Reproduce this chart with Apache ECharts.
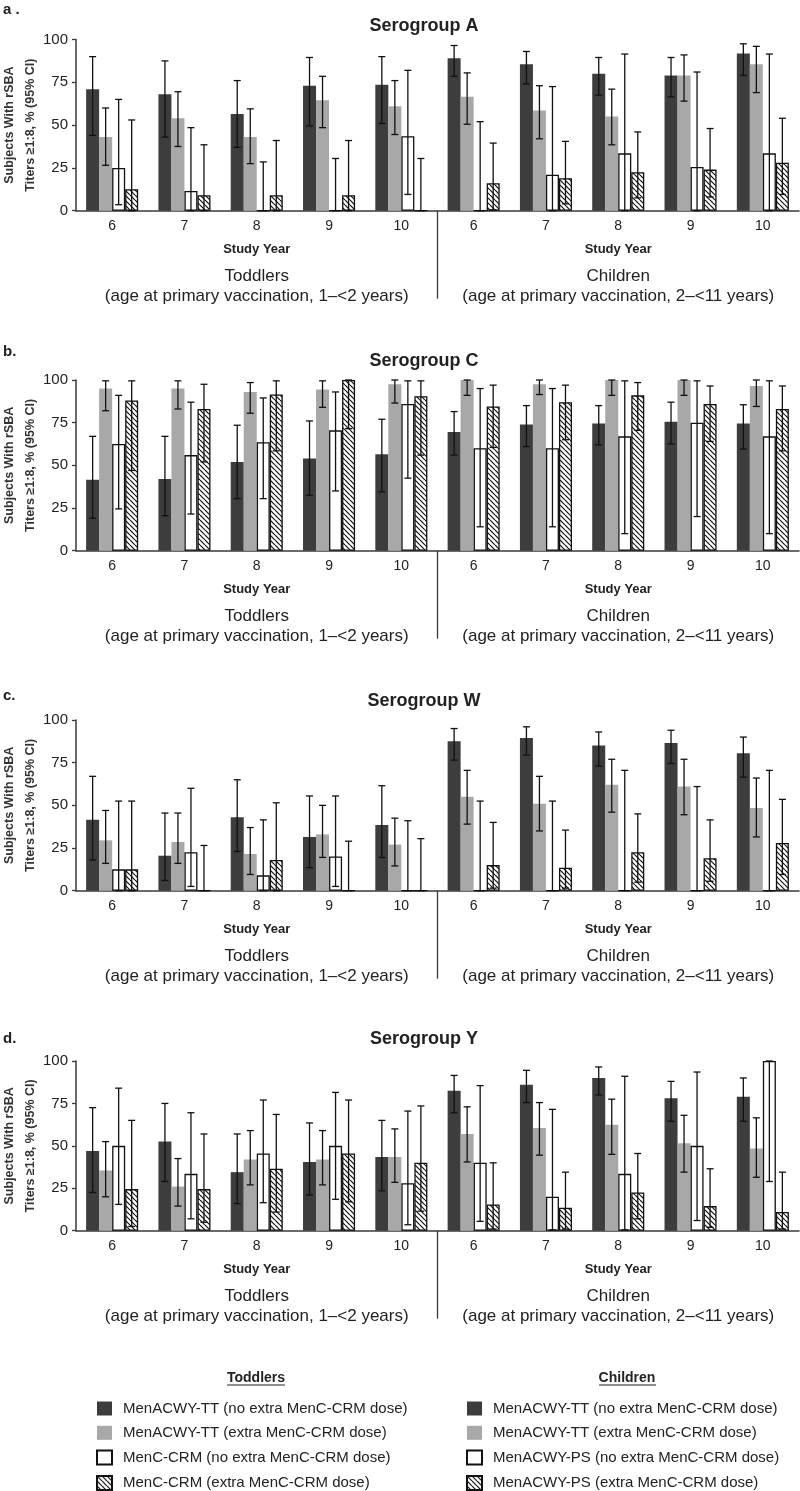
<!DOCTYPE html>
<html><head><meta charset="utf-8">
<script src="https://cdn.jsdelivr.net/npm/echarts@6/dist/echarts.min.js"></script>
<style>html,body{margin:0;padding:0;background:#fff}#c{width:800px;height:1491px}</style>
</head><body><div id="c"></div>
<script>
// ---------- categories / labels ----------
const categories = ['6','7','8','9','10','6','7','8','9','10'];
const groupNames = ['Toddlers','Children'];
const groupSub = ['(age at primary vaccination, 1\u2013<2 years)','(age at primary vaccination, 2\u2013<11 years)'];
const panelTitles = ['Serogroup A','Serogroup C','Serogroup W','Serogroup Y'];
const panelLetters = ['a .','b.','c.','d.'];
const yTickMin = 0, yTickMax = 100, yTickStep = 25;

const nameTT0 = 'MenACWY-TT (no extra MenC-CRM dose)';
const nameTT1 = 'MenACWY-TT (extra MenC-CRM dose)';
const nameCRM0 = 'MenC-CRM (no extra MenC-CRM dose)';
const nameCRM1 = 'MenC-CRM (extra MenC-CRM dose)';
const namePS0 = 'MenACWY-PS (no extra MenC-CRM dose)';
const namePS1 = 'MenACWY-PS (extra MenC-CRM dose)';
const legendToddlers = [nameTT0, nameTT1, nameCRM0, nameCRM1];
const legendChildren = [nameTT0, nameTT1, namePS0, namePS1];

// ---------- data (index 0-4 toddlers yr 6-10, 5-9 children yr 6-10) ----------
// Serogroup A
const A_s1 = [71, 68, 56.5, 73, 73.5, 89, 85.5, 80, 79, 91.8];
const A_s1_lo = [44, 43, 37, 49.5, 51, 78.5, 74, 67.5, 66.5, 79];
const A_s1_hi = [90, 87.5, 76, 89.5, 90, 96.5, 93, 89.5, 89.5, 97.5];
const A_s2 = [43, 54, 43, 64.5, 61, 66.5, 58.5, 55, 79, 85.5];
const A_s2_lo = [26.5, 37.5, 27.5, 48.5, 44.5, 50.5, 42, 38.5, 64, 69];
const A_s2_hi = [60, 69.5, 59.5, 78.5, 76, 80.5, 73, 71, 91, 96];
const A_s3 = [25, 11.5, 0, 0, 43.5, 0, 21, 33.5, 25.5, 33.5];
const A_s3_lo = [3.5, 0, 0, 0, 9.5, 0, 0, 0, 0, 0];
const A_s3_hi = [65, 48.5, 28.5, 30.5, 82, 52, 72.5, 91.5, 81, 91.5];
const A_s4 = [12.5, 9, 9, 9, 0, 16, 19, 22.5, 24, 28];
const A_s4_lo = [0, 0, 0, 0, 0, 0.5, 4, 7.5, 8, 9.5];
const A_s4_hi = [53, 38.5, 41, 41, 30.5, 39.5, 40.5, 46, 48, 54];
// Serogroup C
const C_s1 = [41.5, 42, 52, 54, 56.5, 69.5, 74, 74.5, 75.5, 74.5];
const C_s1_lo = [19, 20.5, 30.5, 32.5, 34.5, 56, 61, 62, 62.5, 59.5];
const C_s1_hi = [67, 67, 73.5, 76, 77, 81.5, 85, 85, 87, 85.5];
const C_s2 = [95, 95, 93, 94.5, 97.5, 100, 97.5, 100, 100, 96.5];
const C_s2_lo = [82, 83, 80.5, 84, 86.5, 91, 91.5, 91, 91, 84.5];
const C_s2_hi = [99.5, 99.5, 98.5, 99.5, 100, 100, 100, 100, 100, 100];
const C_s3 = [62.5, 56, 63.5, 70.5, 86, 60, 60, 67, 75, 67];
const C_s3_lo = [24.5, 21.5, 30.5, 35, 42.5, 14, 14, 10, 20, 10];
const C_s3_hi = [91, 87, 89.5, 93, 99.5, 95, 95, 99.5, 99.5, 99.5];
const C_s4 = [88, 83, 91.5, 100, 90.5, 84.5, 87, 91, 86, 83];
const C_s4_lo = [47, 52, 58.5, 71.5, 56, 60.5, 65, 70.5, 64, 58.5];
const C_s4_hi = [99.5, 97.5, 99.5, 100, 99.5, 97, 97, 98.5, 96.5, 96.5];
// Serogroup W
const W_s1 = [41.5, 20.5, 43, 31.5, 38.5, 87.5, 89.5, 85, 86.5, 80.5];
const W_s1_lo = [18, 6, 23, 13.5, 19.5, 76.5, 79.5, 73, 74.5, 66.5];
const W_s1_hi = [67, 45.5, 65, 55.5, 61.5, 95, 96, 93, 94, 90];
const W_s2 = [29.5, 28.5, 21.5, 33, 27, 55, 51, 62, 61, 48.5];
const W_s2_lo = [16, 16, 9.5, 19.5, 14.5, 39, 35, 46, 44.5, 31.5];
const W_s2_hi = [47, 45.5, 37, 50, 42.5, 70.5, 67, 77, 77, 66];
const W_s3 = [12.5, 22.5, 9, 20, 0, 0, 0, 0, 0, 0];
const W_s3_lo = [0, 2.5, 0, 2.5, 0, 0, 0, 0, 0, 0];
const W_s3_hi = [52.5, 60, 41.5, 55.5, 41, 52.5, 52.5, 70.5, 61, 70.5];
const W_s4 = [12.5, 0, 18, 0, 0, 15, 13.5, 22.5, 19, 28];
const W_s4_lo = [0, 0, 0, 0, 0, 1.5, 1.5, 5, 5.5, 9.5];
const W_s4_hi = [52.5, 26.5, 51.5, 29, 30.5, 40, 35.5, 45, 41.5, 53.5];
// Serogroup Y
const Y_s1 = [47, 52.5, 34.5, 40.5, 43.5, 82.5, 86, 90, 78, 79];
const Y_s1_lo = [22.5, 29, 16, 21, 23.5, 69.5, 75.5, 80, 64.5, 64.5];
const Y_s1_hi = [72.5, 75, 57, 63.5, 65, 91.5, 94.5, 96.5, 88, 90];
const Y_s2 = [35.5, 26, 42, 42, 43.5, 57, 60.5, 62.5, 51.5, 48.5];
const Y_s2_lo = [20, 14.5, 27, 27, 28.5, 40.5, 44.5, 45, 34.5, 31.5];
const Y_s2_hi = [52.5, 42.5, 59, 59, 60, 73, 75.5, 77.5, 68, 66.5];
const Y_s3 = [50, 33.5, 45.5, 50, 28, 40, 20, 33.5, 50, 100];
const Y_s3_lo = [15.5, 7, 16.5, 18.5, 3.5, 5.5, 0.5, 0.5, 6, 29];
const Y_s3_hi = [84, 69.5, 77, 81.5, 70.5, 85.5, 71.5, 91, 93.5, 100];
const Y_s4 = [24.5, 24.5, 36.5, 45.5, 40, 15.5, 13.5, 22.5, 14.5, 11];
const Y_s4_lo = [2.5, 5, 11, 17, 11.5, 1, 1, 7, 2, 1];
const Y_s4_hi = [65, 57, 68.5, 77, 73.5, 40, 34.5, 45.5, 36.5, 34.5];

const panels = [
  {vals:[A_s1,A_s2,A_s3,A_s4], lo:[A_s1_lo,A_s2_lo,A_s3_lo,A_s4_lo], hi:[A_s1_hi,A_s2_hi,A_s3_hi,A_s4_hi]},
  {vals:[C_s1,C_s2,C_s3,C_s4], lo:[C_s1_lo,C_s2_lo,C_s3_lo,C_s4_lo], hi:[C_s1_hi,C_s2_hi,C_s3_hi,C_s4_hi]},
  {vals:[W_s1,W_s2,W_s3,W_s4], lo:[W_s1_lo,W_s2_lo,W_s3_lo,W_s4_lo], hi:[W_s1_hi,W_s2_hi,W_s3_hi,W_s4_hi]},
  {vals:[Y_s1,Y_s2,Y_s3,Y_s4], lo:[Y_s1_lo,Y_s2_lo,Y_s3_lo,Y_s4_lo], hi:[Y_s1_hi,Y_s2_hi,Y_s3_hi,Y_s4_hi]}
];

// ---------- layout / style ----------
const gridTops = [39.5, 380, 720, 1061];
const gridHeights = [171.2, 170.7, 170.7, 169.7];
const titleTops = [16, 351, 691, 1029];
const letterTops = [2, 344, 688, 1031];
const GAP = 0.28;
const DARK = '#3d3d3d', GRAY = '#a8a8a8', INK = '#222', AXIS = '#3a3a3a';
const FONT = 'Liberation Sans, Arial, sans-serif';

function hatch() {
  const s = 5, c = document.createElement('canvas');
  c.width = s; c.height = s;
  const x = c.getContext('2d');
  x.fillStyle = '#fff'; x.fillRect(0, 0, s, s);
  x.strokeStyle = '#111'; x.lineWidth = 1.2;
  for (let k = -1; k <= 1; k++) { x.beginPath(); x.moveTo(k * s, 0); x.lineTo(k * s + s, s); x.stroke(); }
  return c;
}
const hatchPattern = {image: hatch(), repeat: 'repeat'};

function renderErr(params, api) {
  const cat = api.value(0), slot = api.value(1), lo = api.value(2), hi = api.value(3);
  const band = api.size([1, 0])[0];
  const w = band * (1 - GAP) / 4;
  const cx = api.coord([cat, 0])[0] + (slot - 1.5) * w;
  const yl = api.coord([cat, lo])[1], yh = api.coord([cat, hi])[1];
  const cap = 3.5;
  const st = {stroke: '#111', lineWidth: 1.3};
  return {type: 'group', children: [
    {type: 'line', shape: {x1: cx, y1: yl, x2: cx, y2: yh}, style: st},
    {type: 'line', shape: {x1: cx - cap, y1: yh, x2: cx + cap, y2: yh}, style: st},
    {type: 'line', shape: {x1: cx - cap, y1: yl, x2: cx + cap, y2: yl}, style: st}
  ]};
}

const grid = [], xAxis = [], yAxis = [], series = [], title = [];
panels.forEach((p, i) => {
  grid.push({left: 76, right: 1, top: gridTops[i], height: gridHeights[i], containLabel: false, outerBoundsMode: 'none'});
  xAxis.push({
    type: 'category', gridIndex: i, data: categories, position: 'bottom',
    axisLine: {lineStyle: {color: AXIS, width: 1.5}},
    axisTick: {length: 4, lineStyle: {color: AXIS, width: 1.3}},
    axisLabel: {fontSize: 14, color: INK, margin: 8, fontFamily: FONT}
  });
  xAxis.push({
    type: 'category', gridIndex: i, data: groupNames, position: 'bottom',
    axisLine: {show: false}, axisTick: {show: false},
    axisLabel: {
      margin: 22.25, interval: 0, color: INK, fontFamily: FONT,
      formatter: (v, idx) => '{sy|Study Year}\n{g|' + v + '}\n{g|' + groupSub[idx] + '}',
      rich: {
        sy: {fontSize: 13, fontWeight: 'bold', lineHeight: 33.5, color: INK, fontFamily: FONT},
        g: {fontSize: 17, lineHeight: 20, color: INK, fontFamily: FONT}
      }
    }
  });
  yAxis.push({
    type: 'value', gridIndex: i, min: yTickMin, max: yTickMax, interval: yTickStep,
    axisLine: {show: true, lineStyle: {color: AXIS, width: 1.5}},
    axisTick: {show: true, length: 4, lineStyle: {color: AXIS, width: 1.3}},
    splitLine: {show: false},
    axisLabel: {fontSize: 15, color: INK, margin: 8, fontFamily: FONT},
    name: 'Subjects With rSBA\nTiters \u22651:8, % (95% CI)',
    nameLocation: 'middle', nameRotate: 90, nameGap: 34.5, nameMoveOverlap: false,
    nameTextStyle: {fontSize: 12.5, fontWeight: 'bold', color: '#333', lineHeight: 21, fontFamily: FONT}
  });
  title.push({text: panelTitles[i], left: 424, top: titleTops[i], textAlign: 'center', padding: 0,
    textStyle: {fontSize: 18, fontWeight: 'bold', color: INK, lineHeight: 20, fontFamily: FONT}});
  title.push({text: panelLetters[i], left: 3, top: letterTops[i], padding: 0,
    textStyle: {fontSize: 15, fontWeight: 'bold', color: INK, lineHeight: 16, fontFamily: FONT}});

  const common = {type: 'bar', xAxisIndex: 2 * i, yAxisIndex: i, barCategoryGap: (GAP * 100) + '%', barGap: '0%', animation: false};
  const whiteStyle = {color: '#fff', borderColor: '#111', borderWidth: 1.3};
  const hatchStyle = {color: hatchPattern, borderColor: '#111', borderWidth: 1.3};
  series.push(Object.assign({name: nameTT0, data: p.vals[0], itemStyle: {color: DARK}}, common));
  series.push(Object.assign({name: nameTT1, data: p.vals[1], itemStyle: {color: GRAY}}, common));
  series.push(Object.assign({name: nameCRM0, stack: 'w' + i, data: p.vals[2].map((v, k) => k < 5 ? v : '-'), itemStyle: whiteStyle}, common));
  series.push(Object.assign({name: namePS0, stack: 'w' + i, data: p.vals[2].map((v, k) => k >= 5 ? v : '-'), itemStyle: whiteStyle}, common));
  series.push(Object.assign({name: nameCRM1, stack: 'h' + i, data: p.vals[3].map((v, k) => k < 5 ? v : '-'), itemStyle: hatchStyle}, common));
  series.push(Object.assign({name: namePS1, stack: 'h' + i, data: p.vals[3].map((v, k) => k >= 5 ? v : '-'), itemStyle: hatchStyle}, common));

  const errData = [];
  for (let s = 0; s < 4; s++) for (let k = 0; k < 10; k++) errData.push([k, s, p.lo[s][k], p.hi[s][k]]);
  series.push({type: 'custom', xAxisIndex: 2 * i, yAxisIndex: i, renderItem: renderErr, data: errData,
    encode: {x: 0, y: [2, 3]}, z: 5, clip: false, animation: false, silent: true});
});

title.push({text: 'Toddlers', left: 256, top: 1370, textAlign: 'center', padding: 0,
  textStyle: {fontSize: 14, fontWeight: 'bold', color: INK, lineHeight: 16, fontFamily: FONT}});
title.push({text: 'Children', left: 627, top: 1370, textAlign: 'center', padding: 0,
  textStyle: {fontSize: 14, fontWeight: 'bold', color: INK, lineHeight: 16, fontFamily: FONT}});

const legendCommon = {orient: 'vertical', top: 1401, height: 110, itemWidth: 15, itemHeight: 14, itemGap: 9.3, icon: 'rect',
  selectedMode: false, padding: 0,
  textStyle: {fontSize: 15, color: INK, lineHeight: 14, padding: [0, 0, 0, 6], fontFamily: FONT}};
const legend = [
  Object.assign({left: 96, data: legendToddlers}, legendCommon),
  Object.assign({left: 466, data: legendChildren}, legendCommon)
];

const chart = echarts.init(document.getElementById('c'), null, {renderer: 'canvas'});
chart.setOption({animation: false, backgroundColor: '#fff', title, legend, grid, xAxis, yAxis, series});

const graphic = [];
panels.forEach((p, i) => {
  const x = (chart.convertToPixel({xAxisIndex: 2 * i}, 4) + chart.convertToPixel({xAxisIndex: 2 * i}, 5)) / 2;
  const y0 = chart.convertToPixel({yAxisIndex: i}, 0);
  graphic.push({type: 'line', shape: {x1: x, y1: y0, x2: x, y2: y0 + 88}, style: {stroke: AXIS, lineWidth: 1.3}, silent: true});
});
graphic.push({type: 'line', shape: {x1: 227, y1: 1385, x2: 285, y2: 1385}, style: {stroke: INK, lineWidth: 1.2}});
graphic.push({type: 'line', shape: {x1: 599, y1: 1385, x2: 656, y2: 1385}, style: {stroke: INK, lineWidth: 1.2}});
chart.setOption({graphic});
</script>
</body></html>
